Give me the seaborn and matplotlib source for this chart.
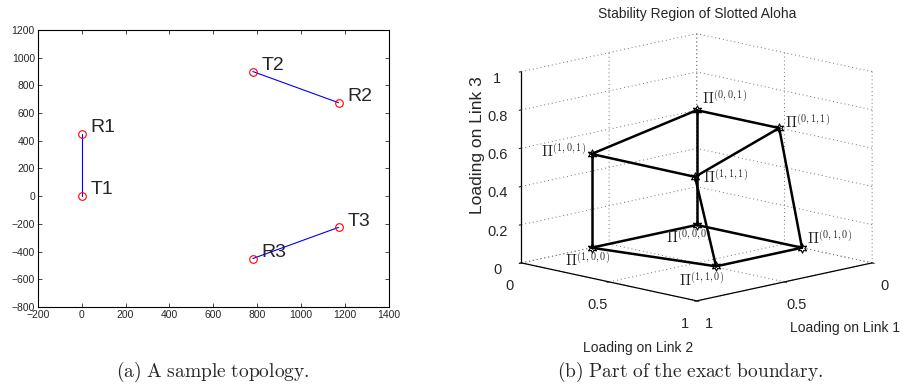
import matplotlib
matplotlib.use("Agg")
import matplotlib.pyplot as plt
import seaborn as sns
import numpy as np
import pandas as pd
from matplotlib.transforms import offset_copy

# ---------------- data ----------------
# (a) topology: transmitter / receiver positions of each link
node_names = ["T1", "R1", "T2", "R2", "T3", "R3"]
node_x = [0, 0, 780, 1170, 1170, 780]
node_y = [0, 450, 900, 675, -225, -450]
node_link = [1, 1, 2, 2, 3, 3]
topo_xticks = [-200, 0, 200, 400, 600, 800, 1000, 1200, 1400]
topo_yticks = [-800, -600, -400, -200, 0, 200, 400, 600, 800, 1000, 1200]

# (b) vertices of the stability region boundary
vert_names = ["(0,0,0)", "(1,0,0)", "(0,1,0)", "(0,0,1)",
              "(1,1,0)", "(1,0,1)", "(0,1,1)", "(1,1,1)"]
load_link1 = [0.00, 0.60, 0.00, 0.00, 0.49, 0.60, 0.00, 0.48]
load_link2 = [0.00, 0.00, 0.60, 0.00, 0.60, 0.00, 0.47, 0.47]
load_link3 = [0.00, 0.00, 0.00, 0.60, 0.00, 0.49, 0.60, 0.44]
edges = [(0, 1), (0, 2), (0, 3), (1, 4), (1, 5), (2, 4), (2, 6),
         (3, 5), (3, 6), (4, 7), (5, 7), (6, 7)]
xy_ticks = [0, 0.5, 1]
xy_ticklabels = ["0", "0.5", "1"]
z_ticks = [0, 0.2, 0.4, 0.6, 0.8, 1]
z_ticklabels = ["0", "0.2", "0.4", "0.6", "0.8", "1"]

# label placement (pixel offsets, alignment) for each vertex
lab_dx = [-8, -4, 5, 5, -15, -5, 6, 8]
lab_dy = [-3, -3, 10, 3, -5, 3, 6, 0]
lab_ha = ["center", "center", "left", "left", "center", "right", "left", "left"]
lab_va = ["top", "top", "center", "bottom", "top", "center", "center", "center"]

# ---------------- style ----------------
sns.set_style("white")
plt.rcParams["font.family"] = ["Liberation Sans", "DejaVu Sans"]
plt.rcParams["mathtext.fontset"] = "cm"
plt.rcParams["axes.unicode_minus"] = True

fig = plt.figure(figsize=(9.06, 3.90), dpi=100)

# ---------------- (a) ----------------
ax1 = fig.add_axes([0.0416, 0.2128, 0.3878, 0.7103])
df = pd.DataFrame({"x": node_x, "y": node_y, "link": node_link, "name": node_names})
sns.lineplot(data=df, x="x", y="y", units="link", estimator=None, sort=False,
             color="blue", linewidth=0.8, marker="o", markersize=5.5,
             markerfacecolor="none", markeredgecolor="red", markeredgewidth=0.8,
             legend=False, ax=ax1)
for nm, xx, yy in zip(node_names, node_x, node_y):
    ax1.text(xx + 40, yy + 45, nm, ha="left", va="center", fontsize=14)
ax1.set_xlim(topo_xticks[0], topo_xticks[-1])
ax1.set_ylim(topo_yticks[0], topo_yticks[-1])
ax1.set_xticks(topo_xticks)
ax1.set_yticks(topo_yticks)
ax1.set_xlabel("")
ax1.set_ylabel("")
ax1.tick_params(direction="in", length=3, width=0.6, labelsize=7.5,
                top=True, right=True, bottom=True, left=True, pad=2)
for s in ax1.spines.values():
    s.set_linewidth(0.8)
    s.set_color("black")

# ---------------- (b) ----------------
ax3 = fig.add_axes([0.5644, 0.1603, 0.40, 0.80], projection="3d")
ax3.set_proj_type("ortho")
ax3.view_init(elev=12.5, azim=45)
ax3.set_box_aspect((1, 1, 0.79), zoom=1.25)
for i, j in edges:
    ax3.plot([load_link1[i], load_link1[j]], [load_link2[i], load_link2[j]],
             [load_link3[i], load_link3[j]], color="black", linewidth=1.8)
ax3.scatter(load_link1, load_link2, load_link3, marker=(6, 1, 0), s=45,
            facecolor="white", edgecolor="black", linewidth=0.8, depthshade=False, zorder=5)
for k, nm in enumerate(vert_names):
    tr = offset_copy(ax3.transData, fig=fig, x=lab_dx[k], y=lab_dy[k], units="dots")
    ax3.text(load_link1[k], load_link2[k], load_link3[k], r"$\Pi^{%s}$" % nm,
             ha=lab_ha[k], va=lab_va[k], fontsize=10.5, transform=tr)
ax3.set_xlim(0, 1)
ax3.set_ylim(0, 1)
ax3.set_zlim(0, 1)
ax3.set_xticks(xy_ticks)
ax3.set_xticklabels(xy_ticklabels)
ax3.set_yticks(xy_ticks)
ax3.set_yticklabels(xy_ticklabels)
ax3.set_zticks(z_ticks)
ax3.set_zticklabels(z_ticklabels)
for axis in (ax3.xaxis, ax3.yaxis, ax3.zaxis):
    axis.set_pane_color((1, 1, 1, 0))
    axis.pane.set_edgecolor((1, 1, 1, 0))
    axis._axinfo["grid"].update(color="0.45", linestyle=(0, (1, 3)), linewidth=0.7)
    axis._axinfo["tick"].update(inward_factor=0.15, outward_factor=0.0)
    axis.line.set_color("black")
    axis.line.set_linewidth(0.9)
    axis.set_tick_params(labelsize=10.5, pad=0)
    axis.label.set_visible(False)
    axis.offsetText.set_visible(False)
for t in (ax3.title, ax3._left_title, ax3._right_title):
    t.set_visible(False)
ax3.grid(True)

fig.text(0.770, 0.963, "Stability Region of Slotted Aloha", ha="center", va="center", fontsize=10)
fig.text(0.527, 0.627, "Loading on Link 3", ha="center", va="center", rotation=90, fontsize=12.5)
fig.text(0.704, 0.108, "Loading on Link 2", ha="center", va="center", fontsize=10)
fig.text(0.933, 0.159, "Loading on Link 1", ha="center", va="center", fontsize=10)

# captions
fig.text(0.235, 0.046, r"$\mathrm{(a)\ A\ sample\ topology.}$", ha="center", va="center", fontsize=14)
fig.text(0.762, 0.046, r"$\mathrm{(b)\ Part\ of\ the\ exact\ boundary.}$", ha="center", va="center", fontsize=14)

fig.savefig("out.png", dpi=100)
